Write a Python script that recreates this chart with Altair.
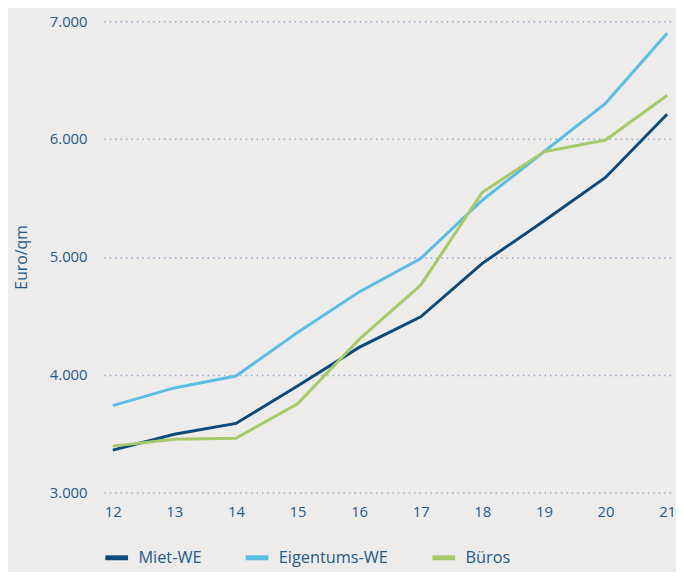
import altair as alt
import pandas as pd

years = [12, 13, 14, 15, 16, 17, 18, 19, 20, 21]
miet_we = [3360, 3495, 3587, 3905, 4232, 4492, 4945, 5305, 5674, 6210]
eigentums_we = [3738, 3888, 3989, 4358, 4702, 4987, 5481, 5892, 6303, 6898]
bueros = [3394, 3453, 3461, 3754, 4300, 4760, 5548, 5892, 5992, 6370]

series = ["Miet-WE", "Eigentums-WE", "Büros"]
colors = ["#0b4a7a", "#5bbde4", "#a6c96a"]

rows = []
for name, vals in zip(series, [miet_we, eigentums_we, bueros]):
    for y, v in zip(years, vals):
        rows.append({"Jahr": y, "Wert": v, "Serie": name})
df = pd.DataFrame(rows)

text_color = "#1f5a8a"
font = "Open Sans"

chart = alt.Chart(df).mark_line(strokeWidth=3).encode(
    x=alt.X("Jahr:Q",
            scale=alt.Scale(domain=[11.8556, 21.0802], nice=False, zero=False),
            axis=alt.Axis(values=years, title=None, grid=False, domain=False, ticks=False,
                          labelFontSize=15, labelColor=text_color, labelFont=font,
                          labelPadding=12, labelFlush=False)),
    y=alt.Y("Wert:Q",
            scale=alt.Scale(domain=[3000, 7000], nice=False, zero=False),
            axis=alt.Axis(values=[3000, 4000, 5000, 6000, 7000], title="Euro/qm",
                          labelExpr="replace(format(datum.value, ',d'), ',', '.')",
                          grid=True, gridDash=[1.5, 4], gridColor="#8fa8cc", gridWidth=1.5,
                          domain=False, ticks=False,
                          labelFontSize=15, labelColor=text_color, labelFont=font,
                          labelPadding=17,
                          titleFontSize=16, titleColor=text_color, titleFont=font,
                          titleFontWeight="normal", titlePadding=20)),
    color=alt.Color("Serie:N",
                    scale=alt.Scale(domain=series, range=colors),
                    sort=series,
                    legend=alt.Legend(title=None, orient="none", legendX=-1, legendY=529,
                                      direction="horizontal", columns=3,
                                      symbolType="stroke", symbolStrokeWidth=5,
                                      symbolSize=529, labelFontSize=16.5,
                                      labelColor=text_color, labelFont=font,
                                      columnPadding=34, labelOffset=8)),
).properties(
    width=575, height=477,
    background="#edeceb",
    padding={"left": 97, "top": 10, "right": 4, "bottom": 77},
    autosize=alt.AutoSizeParams(type="none"),
).configure_view(stroke=None)

chart.save("out.html", embed_options={"renderer": "svg", "actions": False})
